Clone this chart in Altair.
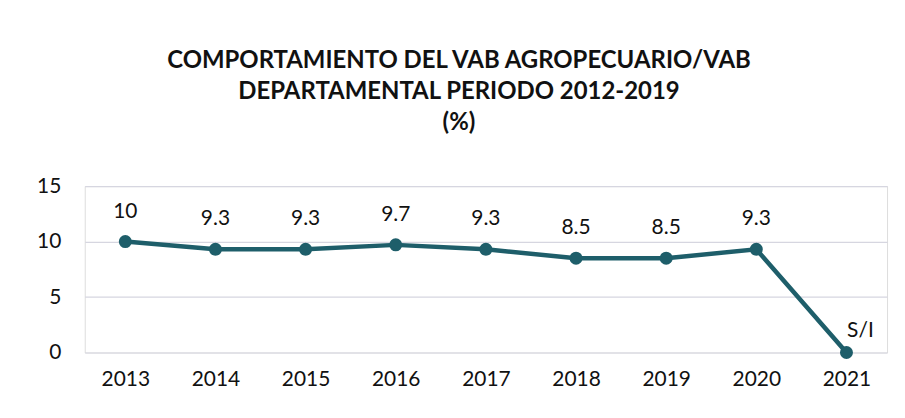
import altair as alt
import pandas as pd

years = ["2013", "2014", "2015", "2016", "2017", "2018", "2019", "2020", "2021"]
values = [10, 9.3, 9.3, 9.7, 9.3, 8.5, 8.5, 9.3, 0]
labels = ["10", "9.3", "9.3", "9.7", "9.3", "8.5", "8.5", "9.3", "S/I"]
y_ticks = [0, 5, 10, 15]

df = pd.DataFrame({"year": years, "value": values, "label": labels})

COLOR = "#1E5E6A"
FONT = "Lato"

base = alt.Chart(df).encode(
    x=alt.X(
        "year:O",
        sort=years,
        scale=alt.Scale(type="point", padding=0.45),
        axis=alt.Axis(
            labelAngle=0, title=None, domain=False, ticks=False,
            labelFontSize=21, labelPadding=16, labelColor="#111111",
            labelFont=FONT, grid=False,
        ),
    ),
    y=alt.Y(
        "value:Q",
        scale=alt.Scale(domain=[0, 15], nice=False),
        axis=alt.Axis(
            values=y_ticks, title=None, domain=False, ticks=False,
            gridColor="#D6D6E0", gridWidth=1.2, labelPadding=24,
            labelFontSize=21, labelColor="#111111", labelFont=FONT,
        ),
    ),
)

line = base.mark_line(color=COLOR, strokeWidth=4.5)
points = base.mark_point(filled=True, size=170, opacity=1, color=COLOR)
text_main = base.transform_filter(alt.datum.label != "S/I").mark_text(
    dy=-30, fontSize=21, font=FONT, color="#111111"
).encode(text="label:N")
text_si = base.transform_filter(alt.datum.label == "S/I").mark_text(
    dx=14, dy=-22, fontSize=21, font=FONT, color="#111111"
).encode(text="label:N")

chart = alt.layer(line, points, text_main, text_si).properties(
    width=805,
    height=167,
    autosize=alt.AutoSizeParams(type="none"),
    padding={"left": 77, "top": 178, "right": 10, "bottom": 50},
    title=alt.TitleParams(
        text=["COMPORTAMIENTO DEL VAB AGROPECUARIO/VAB",
              "DEPARTAMENTAL PERIODO 2012-2019", "(%)"],
        anchor="middle", dx=-27, offset=40, fontSize=24, font=FONT,
        fontWeight="bold", color="#111111", lineHeight=31,
    ),
).configure_view(stroke=None).configure(background="white")

chart.save("out.html", embed_options={"renderer": "svg", "actions": False})
